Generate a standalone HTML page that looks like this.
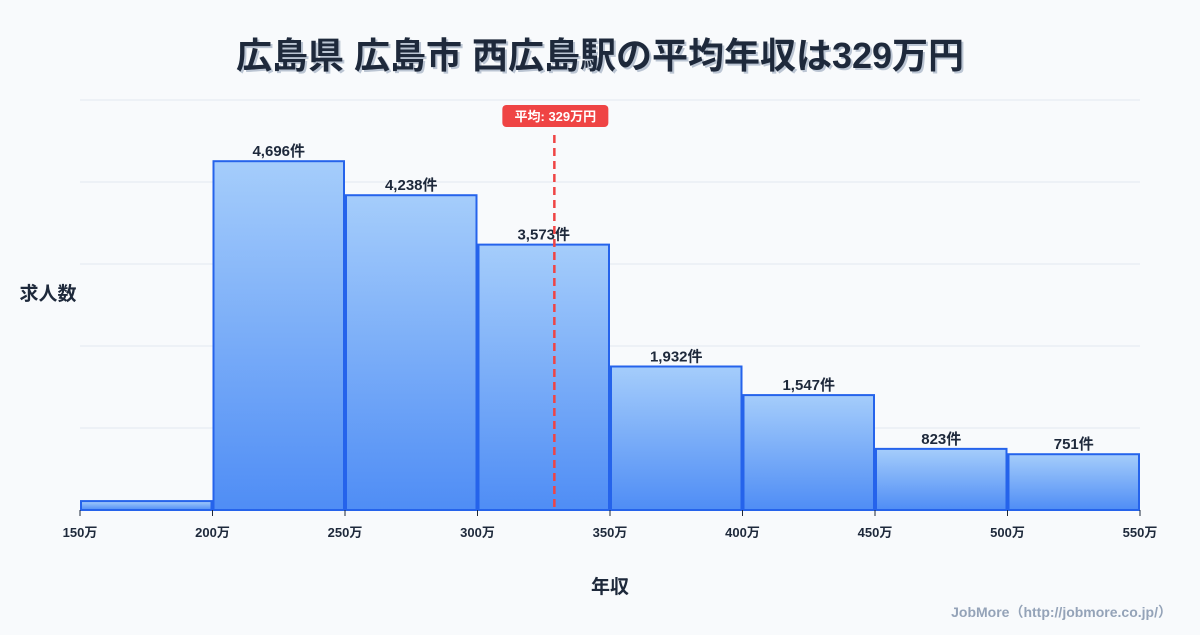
<!DOCTYPE html>
<html><head><meta charset="utf-8"><style>
body{margin:0;background:#f8fafc;font-family:"Liberation Sans","Noto Sans CJK JP",sans-serif;}
svg text{font-family:"Liberation Sans","Noto Sans CJK JP",sans-serif;}
</style></head><body>
<svg id="c" width="1200" height="630" viewBox="0 0 1200 630" xmlns="http://www.w3.org/2000/svg">
<defs><linearGradient id="g" x1="0" y1="0" x2="0" y2="1"><stop offset="0" stop-color="#a5cdfb"/><stop offset="1" stop-color="#4f8df5"/></linearGradient></defs>
<rect width="1200" height="630" fill="#f8fafc"/>
<text x="600" y="68" text-anchor="middle" font-size="36" font-weight="bold" fill="#94a3b8" opacity="0.6" transform="translate(2,2)">広島県 広島市 西広島駅の平均年収は329万円</text>
<text x="600" y="68" text-anchor="middle" font-size="36" font-weight="bold" fill="#1e293b">広島県 広島市 西広島駅の平均年収は329万円</text>
<g id="grid"></g><g id="bars"></g><g id="axis"></g>
<text x="48" y="300" text-anchor="middle" font-size="19" font-weight="bold" fill="#1e293b">求人数</text>
<text x="610" y="593" text-anchor="middle" font-size="19" font-weight="bold" fill="#1e293b">年収</text>
<text x="1172" y="617" text-anchor="end" font-size="14" font-weight="bold" fill="#94a3b8">JobMore（http://jobmore.co.jp/）</text>
</svg>
<script>
const binStarts=[150,200,250,300,350,400,450,500];
const counts=[120,4696,4238,3573,1932,1547,823,751];
const labels=["","4,696件","4,238件","3,573件","1,932件","1,547件","823件","751件"];
const xTicks=[150,200,250,300,350,400,450,500,550];
const meanValue=329;
const meanLabel="平均: 329万円";
const NS="http://www.w3.org/2000/svg";
const x0=80,x1=1140,yb=510,yt=100,xmin=150,xmax=550,ymax=5520;
const X=v=>x0+(v-xmin)/(xmax-xmin)*(x1-x0);
const Y=v=>yb-v/ymax*(yb-yt);
function mk(t,a,p){const e=document.createElementNS(NS,t);for(const k in a)e.setAttribute(k,a[k]);p.appendChild(e);return e;}
const grid=document.getElementById('grid'),bars=document.getElementById('bars'),axis=document.getElementById('axis');
for(let i=0;i<=5;i++){const y=yb-i*(yb-yt)/5;const l=mk('line',{x1:x0,x2:x1,y1:y,y2:y,stroke:'#e2e8f0','stroke-width':1},grid);

}
counts.forEach((c,i)=>{const a=X(binStarts[i])+1,b=X(binStarts[i]+50)-1;
const r=mk('rect',{x:a,y:Y(c),width:b-a,height:yb-Y(c),fill:'url(#g)',stroke:'#2563eb','stroke-width':2},bars);


if(labels[i]){const t=mk('text',{x:(a+b)/2,y:Y(c)-5,'text-anchor':'middle','font-size':15,'font-weight':'bold',fill:'#1e293b'},bars);t.textContent=labels[i];

}});
xTicks.forEach(v=>{const tk=mk('line',{x1:X(v),x2:X(v),y1:yb,y2:yb+6,stroke:'#1e293b','stroke-width':1},axis);


const t=mk('text',{x:X(v),y:yb+27,'text-anchor':'middle','font-size':13,'font-weight':'bold',fill:'#1e293b'},axis);t.textContent=v+'万';

});
const mx=X(meanValue);
const ml=mk('line',{x1:mx,x2:mx,y1:135,y2:yb,stroke:'#ef4444','stroke-width':2.5,'stroke-dasharray':'8,5'},axis);


const mb=mk('rect',{x:mx-52,y:105,width:106,height:22,rx:4,fill:'#ef4444'},axis);


const mt=mk('text',{x:mx+1,y:121,'text-anchor':'middle','font-size':13,'font-weight':'bold',fill:'#fff'},axis);mt.textContent=meanLabel;


</script>
</body></html>
